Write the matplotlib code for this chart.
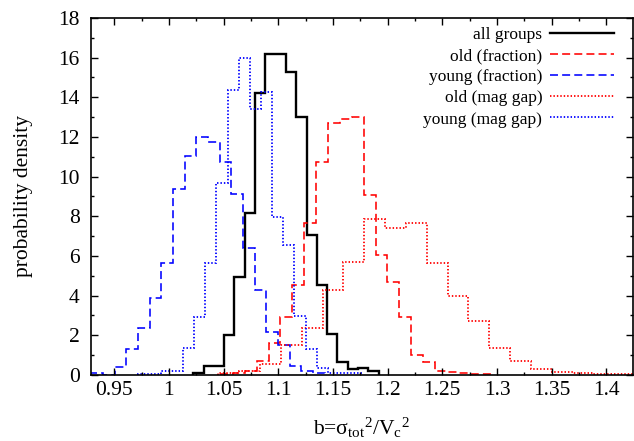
import numpy as np
import matplotlib
matplotlib.use("Agg")
import matplotlib.pyplot as plt
from matplotlib.lines import Line2D
from matplotlib.ticker import MultipleLocator

plt.rcParams['font.family'] = ['Liberation Serif', 'DejaVu Serif']
plt.rcParams['mathtext.fontset'] = 'custom'
plt.rcParams['mathtext.rm'] = 'Liberation Serif'
plt.rcParams['mathtext.it'] = 'Liberation Serif'

# ---- data: histogram bin edges and probability densities ----
all_edges = [1.0222, 1.0316, 1.0410, 1.0505, 1.0599, 1.0693, 1.0787, 1.0881, 1.0976,
             1.1070, 1.1164, 1.1258, 1.1352, 1.1447, 1.1541, 1.1635, 1.1729, 1.1823, 1.1918]
all_vals = [0.12, 0.47, 0.47, 2.03, 4.95, 8.15, 14.2, 16.17, 16.17, 15.28, 13.03, 7.05,
            4.55, 2.08, 0.67, 0.30, 0.37, 0.2]

old_frac_edges = [1.0477, 1.0586, 1.0694, 1.0803, 1.0912, 1.1020, 1.1129, 1.1237, 1.1346,
                  1.1455, 1.1563, 1.1672, 1.1780, 1.1889, 1.1998, 1.2106, 1.2215, 1.2323,
                  1.2432, 1.2541, 1.2649, 1.2758, 1.2866, 1.2975]
old_frac_vals = [0.05, 0.1, 0.2, 0.69, 1.63, 2.94, 4.54, 7.65, 10.73, 12.72, 12.93, 12.99,
                 9.09, 6.05, 4.67, 2.91, 1.01, 0.64, 0.22, 0.13, 0.1, 0.07, 0.03]

young_frac_edges = [0.9289, 0.9396, 0.9503, 0.9609, 0.9716, 0.9823, 0.9929, 1.0036, 1.0143,
                    1.0249, 1.0356, 1.0463, 1.0569, 1.0676, 1.0783, 1.0889, 1.0996, 1.1103,
                    1.1209, 1.1316, 1.1423]
young_frac_vals = [0.1, 0.02, 0.42, 1.31, 2.39, 3.9, 5.63, 9.36, 11.04, 12.02, 11.73, 10.74,
                   9.13, 6.39, 4.29, 2.15, 1.51, 0.47, 0.19, 0.1]

old_mag_edges = [1.0453, 1.0643, 1.0834, 1.1024, 1.1215, 1.1405, 1.1596, 1.1786, 1.1977,
                 1.2167, 1.2358, 1.2548, 1.2739, 1.2929, 1.3120, 1.3310, 1.3501, 1.3691,
                 1.3882, 1.4072, 1.4263]
old_mag_vals = [0.08, 0.22, 0.55, 1.53, 2.37, 4.29, 5.71, 7.85, 7.4, 7.68, 5.63, 4.0, 2.74,
                1.34, 0.71, 0.32, 0.15, 0.08, 0.06, 0.05]

young_mag_edges = [0.9720, 0.9822, 0.9924, 1.0026, 1.0128, 1.0230, 1.0332, 1.0434, 1.0536,
                   1.0638, 1.0740, 1.0842, 1.0944, 1.1046, 1.1148, 1.1250, 1.1352, 1.1454,
                   1.1556, 1.1658, 1.1760]
young_mag_vals = [0.05, 0.05, 0.22, 0.22, 1.36, 2.94, 5.63, 9.7, 14.37, 15.97, 13.43, 14.29,
                  7.95, 6.56, 2.98, 1.31, 0.34, 0.08, 0.08, 0.08]

labels = ['all groups', 'old (fraction)', 'young (fraction)', 'old (mag gap)', 'young (mag gap)']

# ---- styling ----
DASH = (0, (5, 2.6))
DOT = (0, (0.8, 1.1))
styles = [
    dict(color='black', lw=1.7, ls='-'),
    dict(color='#ff0000', lw=1.15, ls=DASH),
    dict(color='#0000ff', lw=1.15, ls=DASH),
    dict(color='#ff0000', lw=1.3, ls=DOT),
    dict(color='#0000ff', lw=1.3, ls=DOT),
]
series = [(all_vals, all_edges), (old_frac_vals, old_frac_edges),
          (young_frac_vals, young_frac_edges), (old_mag_vals, old_mag_edges),
          (young_mag_vals, young_mag_edges)]

fig = plt.figure(figsize=(6.34, 4.41), dpi=100)
ax = fig.add_axes([0.1435, 0.1497, 0.998 - 0.1435, 0.9592 - 0.1497])

handles = []
for (vals, edges), st, lab in zip(series, styles, labels):
    ax.stairs(vals, edges, color=st['color'], linewidth=st['lw'], linestyle=st['ls'],
              fill=False, baseline=0)
    handles.append(Line2D([], [], color=st['color'], linewidth=st['lw'], linestyle=st['ls']))

ax.set_xlim(0.9287, 1.4241)
ax.set_ylim(0, 18)
ax.xaxis.set_major_locator(MultipleLocator(0.05))
ax.xaxis.set_minor_locator(MultipleLocator(0.025))
ax.yaxis.set_major_locator(MultipleLocator(2))
ax.yaxis.set_minor_locator(MultipleLocator(1))
ax.xaxis.set_major_formatter(matplotlib.ticker.FuncFormatter(lambda v, p: ('%g' % round(v, 3))))
ax.tick_params(which='both', direction='in', top=True, right=True, labelsize=15.5, width=1.0)
ax.tick_params(which='major', length=5)
ax.tick_params(which='minor', length=2.5)
ax.tick_params(axis='x', which='major', pad=4.5)
ax.tick_params(axis='y', which='major', pad=8)
for sp in ax.spines.values():
    sp.set_linewidth(1.2)

ax.set_xlabel(r'b=σ$_{\mathrm{tot}}{}^{2}$/V$_{\mathrm{c}}{}^{2}$', fontsize=15.5, labelpad=11)
ax.set_ylabel('probability density', fontsize=15.5, labelpad=18)

leg = ax.legend(handles, labels, loc='upper right', frameon=False, markerfirst=False,
                fontsize=12.5, handlelength=3.7, handletextpad=0.45, labelspacing=0.29,
                borderaxespad=0.1, bbox_to_anchor=(0.982, 1.0))

fig.savefig('out.png', dpi=100)
